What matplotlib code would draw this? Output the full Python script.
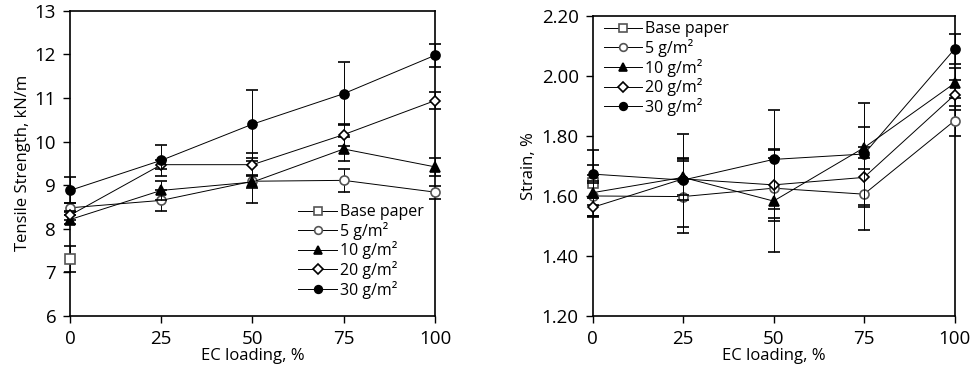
import matplotlib.pyplot as plt

plt.rcParams['font.family'] = ['Open Sans', 'DejaVu Sans']

loading = [0, 25, 50, 75, 100]
labels = ['Base paper', '5 g/m²', '10 g/m²', '20 g/m²', '30 g/m²']

# tensile strength, kN/m
ts_base = [7.30]
ts_base_err = [0.30]
ts_5 = [8.48, 8.65, 9.09, 9.11, 8.84]
ts_5_err = [0.10, 0.25, 0.15, 0.26, 0.15]
ts_10 = [8.21, 8.88, 9.07, 9.83, 9.42]
ts_10_err = [0.10, 0.21, 0.49, 0.28, 0.20]
ts_20 = [8.31, 9.47, 9.47, 10.16, 10.94]
ts_20_err = [0.10, 0.10, 0.26, 0.25, 0.20]
ts_30 = [8.88, 9.57, 10.40, 11.10, 11.98]
ts_30_err = [0.30, 0.35, 0.78, 0.72, 0.26]

# strain, %
st_base = [1.642]
st_base_err = [0.11]
st_5 = [1.600, 1.598, 1.626, 1.606, 1.851]
st_5_err = [0.07, 0.12, 0.10, 0.12, 0.05]
st_10 = [1.611, 1.662, 1.583, 1.761, 1.976]
st_10_err = [0.04, 0.06, 0.17, 0.07, 0.05]
st_20 = [1.562, 1.657, 1.637, 1.662, 1.937]
st_20_err = [0.03, 0.07, 0.12, 0.10, 0.05]
st_30 = [1.673, 1.653, 1.722, 1.740, 2.090]
st_30_err = [0.03, 0.155, 0.165, 0.17, 0.05]

styles = [
    dict(marker='s', mfc='white', mec='#555555'),
    dict(marker='o', mfc='white', mec='#555555'),
    dict(marker='^', mfc='black', mec='black'),
    dict(marker='D', mfc='white', mec='black', ms=5.5),
    dict(marker='o', mfc='black', mec='black'),
]


def draw(ax, series, errs):
    handles = []
    for i, (y, e) in enumerate(zip(series, errs)):
        st = dict(ms=6.5, mew=1.2)
        st.update(styles[i])
        x = loading[:len(y)]
        h = ax.errorbar(x, y, yerr=e, color='black', lw=0.7, elinewidth=0.7,
                        capsize=4.5, capthick=0.7, clip_on=False, zorder=3 + i,
                        **st)
        for art in h.get_children():
            art.set_clip_on(False)
        handles.append(h)
    ax.set_xlim(0, 100)
    ax.set_xticks(loading)
    ax.tick_params(direction='out', length=5, width=1, labelsize=13.5, pad=5)
    for s in ax.spines.values():
        s.set_linewidth(1.2)
    ax.set_xlabel('EC loading, %', fontsize=12, labelpad=0)
    return handles


fig = plt.figure(figsize=(9.73, 3.76), dpi=100)
ax1 = fig.add_axes([0.072, 0.160, 0.375, 0.811])
ax2 = fig.add_axes([0.609, 0.160, 0.372, 0.797])

h1 = draw(ax1, [ts_base, ts_5, ts_10, ts_20, ts_30],
          [ts_base_err, ts_5_err, ts_10_err, ts_20_err, ts_30_err])
ax1.set_ylim(6, 13)
ax1.set_yticks(range(6, 14))
ax1.set_ylabel('Tensile Strength, kN/m', fontsize=12, labelpad=3)
leg_kw = dict(frameon=False, fontsize=11.5, handlelength=2.4, handletextpad=0.2,
              labelspacing=0.1, borderaxespad=0.3, markerscale=0.85)
ax1.legend([h[0] for h in h1], labels, loc='lower right',
           bbox_to_anchor=(1.0, 0.02), **leg_kw)

h2 = draw(ax2, [st_base, st_5, st_10, st_20, st_30],
          [st_base_err, st_5_err, st_10_err, st_20_err, st_30_err])
ax2.set_ylim(1.2, 2.2)
ax2.set_yticks([1.2, 1.4, 1.6, 1.8, 2.0, 2.2])
ax2.set_yticklabels(['1.20', '1.40', '1.60', '1.80', '2.00', '2.20'])
ax2.set_ylabel('Strain, %', fontsize=12, labelpad=3)
ax2.legend([h[0] for h in h2], labels, loc='upper left',
           bbox_to_anchor=(0.0, 1.02), **leg_kw)

fig.savefig('out.png', dpi=100)
